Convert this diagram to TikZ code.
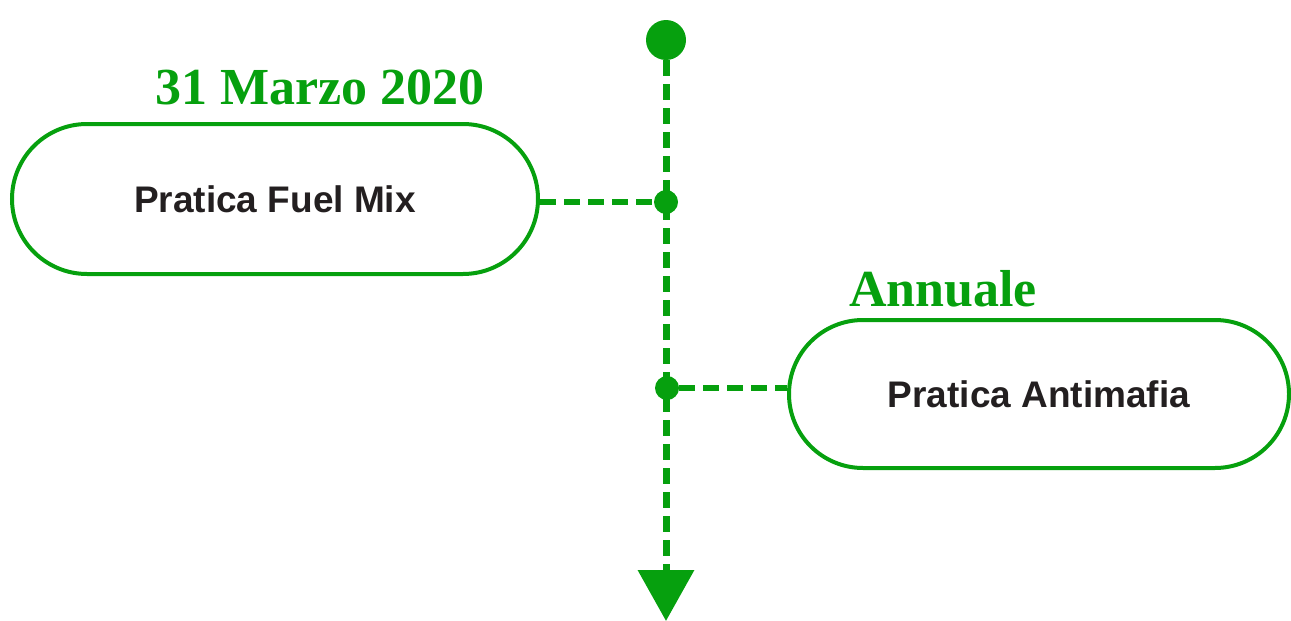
\documentclass[tikz,border=0pt]{standalone}
\usepackage{fontspec}
\setmainfont{Liberation Serif}
\setsansfont{Liberation Sans}
\usepackage{xcolor}
\usetikzlibrary{arrows.meta,shapes.misc,calc}
\definecolor{tlgreen}{RGB}{6,160,14}
\definecolor{tltext}{RGB}{35,31,32}

\begin{document}
\begin{tikzpicture}[x=1pt,y=-1pt]
		\tikzset{
		    task/.style={rounded rectangle,draw=tlgreen,line width=4pt,fill=white,inner sep=0pt,
		        font=\sffamily\bfseries\fontsize{37}{42}\selectfont,text=tltext},
		    dot/.style={circle,fill=tlgreen,inner sep=0pt,minimum size=#1},
		    date/.style={font=\rmfamily\bfseries\fontsize{52}{56}\selectfont,text=tlgreen},
		    timeline/.style={draw=tlgreen,line width=7pt,dash pattern=on 16pt off 8pt,-{Triangle[length=51pt,width=55pt]}},
		    link/.style={draw=tlgreen,line width=6pt,dash pattern=on 16pt off 8pt}
		}
		\useasboundingbox (0,0) rectangle (1291,621);

		% nodes
		\node[dot=40pt] (start) at (666,40) {};
		\coordinate (end) at (666,621);
		\node[dot=24pt] (jfuel) at (666,202) {};
		\node[dot=24pt] (janti) at (667,388) {};
		\node[task,minimum width=526pt,minimum height=150pt] (fuel) at (275,199) {Pratica Fuel Mix};
		\node[task,minimum width=500pt,minimum height=148pt] (anti) at (1039,394) {Pratica Antimafia};
		\node[date] (dfuel) at (320,87) {31 Marzo 2020};
		\node[date] (danti) at (943,289) {Annuale};

		% edges
		\draw[timeline] (start) -- (end);
		\draw[link] (fuel.east |- jfuel) -- (jfuel);
		\draw[link] (janti) -- (janti -| anti.west);

	\end{tikzpicture}
\end{document}
